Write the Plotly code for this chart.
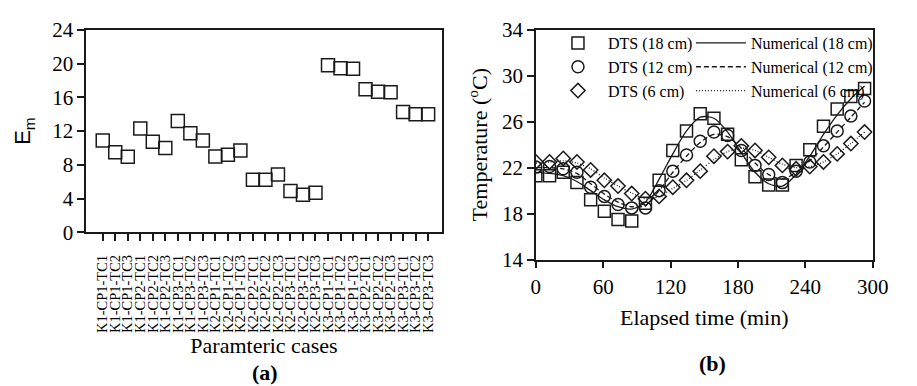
import plotly.graph_objects as go

W, H = 917, 386

# ---------------- Panel (a) data ----------------
cases = [
    "K1-CP1-TC1", "K1-CP1-TC2", "K1-CP1-TC3",
    "K1-CP2-TC1", "K1-CP2-TC2", "K1-CP2-TC3",
    "K1-CP3-TC1", "K1-CP3-TC2", "K1-CP3-TC3",
    "K2-CP1-TC1", "K2-CP1-TC2", "K2-CP1-TC3",
    "K2-CP2-TC1", "K2-CP2-TC2", "K2-CP2-TC3",
    "K2-CP3-TC1", "K2-CP3-TC2", "K2-CP3-TC3",
    "K3-CP1-TC1", "K3-CP1-TC2", "K3-CP1-TC3",
    "K3-CP2-TC1", "K3-CP2-TC2", "K3-CP2-TC3",
    "K3-CP3-TC1", "K3-CP3-TC2", "K3-CP3-TC3",
]
em_values = [10.9, 9.5, 8.95, 12.3, 10.75, 10.0, 13.2, 11.75, 10.9,
             9.0, 9.2, 9.7, 6.25, 6.25, 6.85, 4.9, 4.45, 4.7,
             19.8, 19.45, 19.4, 16.95, 16.65, 16.6, 14.25, 14.0, 14.0]
em_ticks = [0, 4, 8, 12, 16, 20, 24]

# ---------------- Panel (b) data ----------------
time_min = [0, 12.2, 24.4, 36.6, 48.8, 61.0, 73.2, 85.4, 97.6, 109.8, 122.0,
            134.2, 146.4, 158.6, 170.8, 183.0, 195.2, 207.4, 219.6, 231.8,
            244.0, 256.2, 268.4, 280.6, 292.8]
dts_18 = [21.3, 21.3, 21.6, 20.7, 19.2, 18.2, 17.5, 17.35, 18.9, 20.9, 23.5,
          25.2, 26.7, 26.3, 24.9, 22.7, 21.2, 20.5, 20.5, 22.2, 23.55, 25.6,
          27.1, 28.2, 28.9]
dts_12 = [22.05, 22.1, 21.9, 21.6, 20.3, 19.5, 18.8, 18.5, 18.5, 20.0, 21.7,
          23.1, 24.3, 25.1, 24.8, 23.5, 22.2, 21.4, 20.7, 21.7, 22.5, 23.9,
          25.2, 26.5, 27.8]
dts_6 = [22.5, 22.5, 22.8, 22.5, 21.8, 20.9, 20.4, 19.75, 19.3, 19.5, 20.3,
         20.9, 21.7, 23.0, 23.4, 23.9, 23.5, 22.9, 22.2, 21.9, 22.1, 22.5,
         23.2, 24.1, 25.1]
num_18 = [21.6, 21.5, 21.3, 20.8, 20.0, 19.2, 18.6, 18.4, 19.0, 21.0, 23.2,
          25.2, 26.4, 26.3, 25.1, 23.3, 21.6, 20.6, 20.4, 21.4, 23.0, 24.9,
          26.6, 28.0, 29.1]
num_12 = [22.0, 22.0, 21.9, 21.5, 20.6, 19.7, 19.0, 18.6, 18.7, 20.0, 21.6,
          23.0, 24.2, 24.9, 24.7, 23.7, 22.4, 21.4, 21.0, 21.6, 22.6, 23.8,
          25.1, 26.4, 27.7]
num_6 = [22.4, 22.5, 22.6, 22.4, 21.9, 21.1, 20.4, 19.8, 19.3, 19.5, 20.2,
         20.9, 21.8, 22.7, 23.4, 23.7, 23.5, 22.9, 22.3, 22.0, 22.1, 22.5,
         23.2, 24.1, 25.1]
time_ticks = [0, 60, 120, 180, 240, 300]
temp_ticks = [14, 18, 22, 26, 30, 34]

SERIF = "'Liberation Serif', 'Times New Roman', Times, serif"
SANS = "'Liberation Sans', Arial, sans-serif"
INK = "#1a1a1a"

fig = go.Figure()

# Panel (a)
fig.add_trace(go.Scatter(
    x=cases, y=em_values, mode="markers", showlegend=False,
    marker=dict(symbol="square-open", size=13, color=INK, line=dict(width=1.5)),
    xaxis="x", yaxis="y", hoverinfo="x+y"))

# Panel (b) numerical lines (legend2)
for name, vals, dash in [("Numerical (18 cm)", num_18, "solid"),
                         ("Numerical (12 cm)", num_12, "5px,3px"),
                         ("Numerical (6 cm)", num_6, "1px,2px")]:
    fig.add_trace(go.Scatter(
        x=time_min, y=vals, mode="lines", name=name, legend="legend2",
        line=dict(color=INK, width=1.3, dash=dash, shape="spline", smoothing=0.8),
        xaxis="x2", yaxis="y2"))

# Panel (b) DTS markers (legend)
for name, vals, sym, size in [("DTS (18 cm)", dts_18, "square-open", 12),
                              ("DTS (12 cm)", dts_12, "circle-open", 12),
                              ("DTS (6 cm)", dts_6, "diamond-open", 11)]:
    fig.add_trace(go.Scatter(
        x=time_min, y=vals, mode="markers", name=name, legend="legend",
        marker=dict(symbol=sym, size=size, color=INK, line=dict(width=1.5)),
        xaxis="x2", yaxis="y2"))

axis_common = dict(
    showline=True, linecolor=INK, linewidth=1.5, mirror=True,
    ticks="outside", ticklen=7, tickwidth=1.5, tickcolor=INK,
    showgrid=False, zeroline=False,
    tickfont=dict(family=SERIF, size=21, color="black"),
)

fig.update_layout(
    width=W, height=H,
    margin=dict(l=0, r=0, t=0, b=0),
    paper_bgcolor="white", plot_bgcolor="white",
    font=dict(family=SERIF, color="black"),
    xaxis=dict(
        **{k: v for k, v in axis_common.items() if k != "tickfont"},
        domain=[83 / W, 447 / W], anchor="y",
        type="category", categoryorder="array", categoryarray=cases,
        tickmode="array", tickvals=cases, ticktext=cases,
        range=[-1.33, 27.09], tickangle=-90, ticklabelstandoff=8,
        tickfont=dict(family=SERIF, size=14.5, color="black"),
        title=dict(text="Paramteric cases", font=dict(family=SERIF, size=22), standoff=5),
    ),
    yaxis=dict(
        **axis_common,
        domain=[1 - 235 / H, 1 - 19 / H], anchor="x",
        range=[0, 24], tickvals=em_ticks,
        title=dict(text="E<sub>m</sub>", font=dict(family=SANS, size=22), standoff=15),
    ),
    xaxis2=dict(
        **axis_common,
        domain=[543.3 / W, 888 / W], anchor="y2",
        range=[0, 300], tickvals=time_ticks,
        title=dict(text="Elapsed time (min)", font=dict(family=SERIF, size=22), standoff=12),
    ),
    yaxis2=dict(
        **axis_common,
        domain=[1 - 264 / H, 1 - 19 / H], anchor="x2",
        range=[14, 34], tickvals=temp_ticks,
        title=dict(text="Temperature (<sup>o</sup>C)", font=dict(family=SERIF, size=22), standoff=8),
    ),
    legend=dict(
        x=555.7 / W, y=1 - 15 / H, xanchor="left", yanchor="top",
        bgcolor="rgba(0,0,0,0)", borderwidth=0, itemwidth=50,
        font=dict(family=SERIF, size=16, color="black"), traceorder="normal",
    ),
    legend2=dict(
        x=702 / W, y=1 - 15 / H, xanchor="left", yanchor="top",
        bgcolor="rgba(0,0,0,0)", borderwidth=0, itemwidth=50,
        font=dict(family=SERIF, size=16, color="black"), traceorder="normal",
    ),
    annotations=[
        dict(text="<b>(a)</b>", x=266 / W, y=1 - 384 / H, xref="paper", yref="paper",
             showarrow=False, xanchor="center", yanchor="middle",
             font=dict(family=SERIF, size=22, color="black")),
        dict(text="<b>(b)</b>", x=724 / W, y=1 - 375 / H, xref="paper", yref="paper",
             showarrow=False, xanchor="center", yanchor="middle",
             font=dict(family=SERIF, size=22, color="black")),
    ],
)

fig.write_html("out.html")
